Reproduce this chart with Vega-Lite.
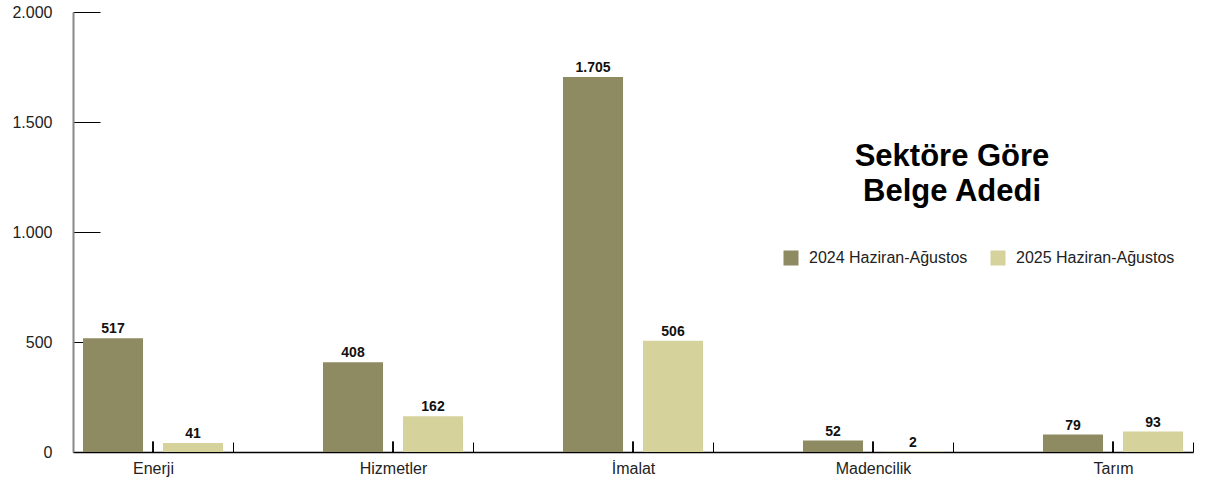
{
  "$schema": "https://vega.github.io/schema/vega-lite/v6.json",
  "width": 1120,
  "height": 440,
  "autosize": "none",
  "padding": {"left": 73, "top": 12, "right": 13, "bottom": 35},
  "background": "white",
  "title": {
    "text": ["Sektöre Göre", "Belge Adedi"],
    "anchor": "middle",
    "frame": "group",
    "dx": 319,
    "dy": 208,
    "font": "Liberation Sans",
    "fontSize": 31,
    "fontWeight": "bold",
    "lineHeight": 35,
    "color": "#000000"
  },
  "data": {
    "values": [
      {"sektor": "Enerji", "donem": "2024 Haziran-Ağustos", "value": 517},
      {"sektor": "Enerji", "donem": "2025 Haziran-Ağustos", "value": 41},
      {"sektor": "Hizmetler", "donem": "2024 Haziran-Ağustos", "value": 408},
      {"sektor": "Hizmetler", "donem": "2025 Haziran-Ağustos", "value": 162},
      {"sektor": "İmalat", "donem": "2024 Haziran-Ağustos", "value": 1705},
      {"sektor": "İmalat", "donem": "2025 Haziran-Ağustos", "value": 506},
      {"sektor": "Madencilik", "donem": "2024 Haziran-Ağustos", "value": 52},
      {"sektor": "Madencilik", "donem": "2025 Haziran-Ağustos", "value": 2},
      {"sektor": "Tarım", "donem": "2024 Haziran-Ağustos", "value": 79},
      {"sektor": "Tarım", "donem": "2025 Haziran-Ağustos", "value": 93}
    ]
  },
  "transform": [
    {"calculate": "replace(format(datum.value, ','), ',', '.')", "as": "etiket"}
  ],
  "encoding": {
    "x": {
      "field": "sektor", "type": "nominal", "sort": null,
      "scale": {"paddingInner": 0.33333, "paddingOuter": 0},
      "axis": {
        "orient": "bottom", "title": null, "tickBand": "extent",
        "tickSize": -10, "tickColor": "#000000", "tickWidth": 1,
        "domainColor": "#000000", "domainWidth": 1.5,
        "labelAngle": 0, "labelFont": "Liberation Sans", "labelFontSize": 16,
        "labelColor": "#222222", "labelPadding": 18
      }
    },
    "y": {
      "field": "value", "type": "quantitative",
      "scale": {"domain": [0, 2000]},
      "axis": {
        "title": null, "values": [0, 500, 1000, 1500, 2000],
        "grid": false, "tickSize": -27, "tickColor": "#000000", "tickWidth": 1,
        "domainColor": "#888888", "domainWidth": 2,
        "labelFont": "Liberation Sans", "labelFontSize": 16, "labelColor": "#222222",
        "labelPadding": 48,
        "labelExpr": "replace(format(datum.value, ','), ',', '.')"
      }
    }
  },
  "layer": [
    {
      "mark": {"type": "bar"},
      "encoding": {
        "xOffset": {
          "field": "donem", "type": "nominal",
          "scale": {"paddingInner": 0.25, "paddingOuter": 0.125}
        },
        "color": {
          "field": "donem", "type": "nominal",
          "scale": {"range": ["#8e8b62", "#d5d39b"]},
          "legend": {
            "title": null, "orient": "none", "legendX": 710, "legendY": 238,
            "direction": "horizontal", "symbolType": "square", "symbolSize": 225,
            "symbolStrokeWidth": 0, "labelFont": "Liberation Sans", "labelFontSize": 16,
            "labelColor": "#222222", "labelOffset": 10, "columnPadding": 22
          }
        }
      }
    },
    {
      "mark": {"type": "text", "dy": -9, "font": "Liberation Sans", "fontSize": 14, "fontWeight": "bold", "color": "#111111"},
      "encoding": {
        "xOffset": {
          "field": "donem", "type": "nominal",
          "scale": {"paddingInner": 0.25, "paddingOuter": 0.125}
        },
        "text": {"field": "etiket"}
      }
    },
    {
      "mark": {"type": "rule", "stroke": "#000000", "strokeWidth": 1.5},
      "encoding": {
        "x": {"field": "sektor", "type": "nominal", "sort": null, "bandPosition": 0.5},
        "y": {"datum": 0},
        "y2": {"datum": 48}
      }
    }
  ],
  "config": {"view": {"stroke": null}}
}
